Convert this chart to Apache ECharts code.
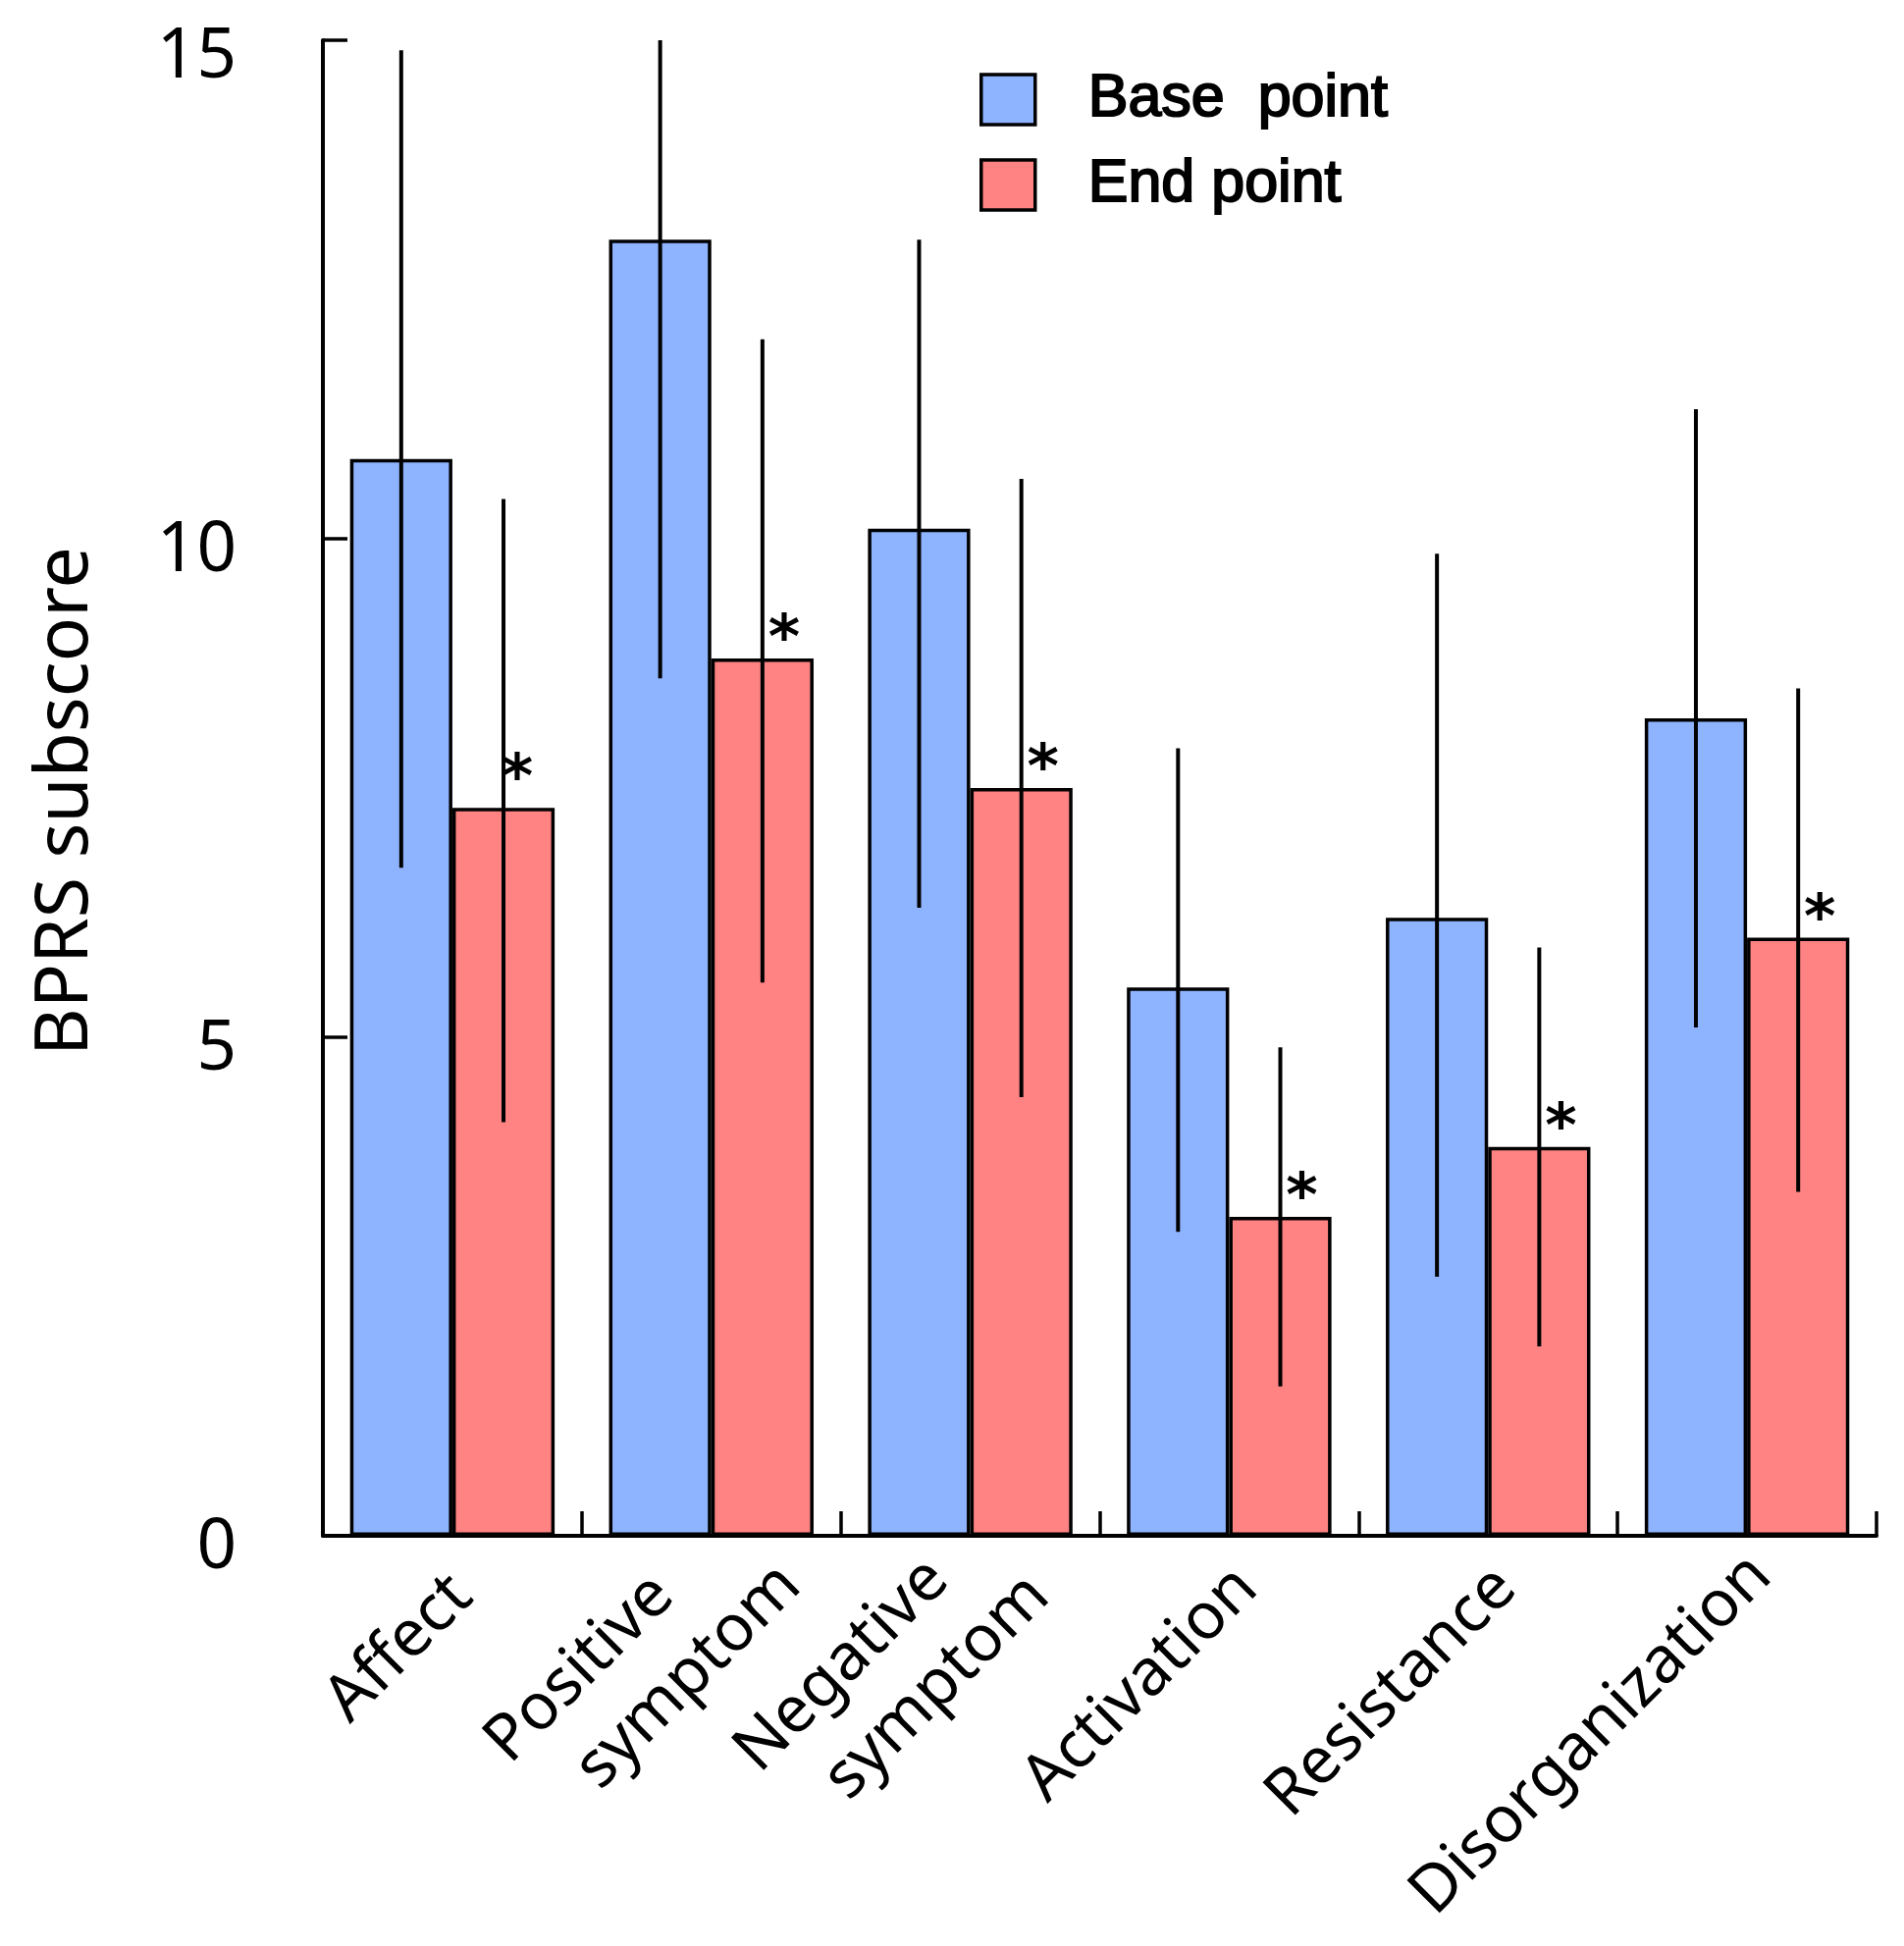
<!DOCTYPE html>
<html><head><meta charset="utf-8">
<script src="https://cdn.jsdelivr.net/npm/echarts@6/dist/echarts.min.js"></script>
<style>html,body{margin:0;padding:0;background:#fff}#c{width:1940px;height:1983px}</style>
</head><body><div id="c"></div>
<script>
const categories = ['Affect', 'Positive\nsymptom', 'Negative\nsymptom', 'Activation', 'Resistance', 'Disorganization'];
const baseMean = [10.8, 13.0, 10.1, 5.5, 6.2, 8.2];
const baseLow  = [6.7, 8.6, 6.3, 3.05, 2.6, 5.1];
const baseHigh = [14.9, 15.0, 13.0, 7.9, 9.85, 11.3];
const endMean  = [7.3, 8.8, 7.5, 3.2, 3.9, 6.0];
const endLow   = [4.15, 5.55, 4.4, 1.5, 1.9, 3.45];
const endHigh  = [10.4, 12.0, 10.6, 4.9, 5.9, 8.5];
const seriesNames = ['Base point', 'End point'];
const yMin = 0, yMax = 15, yStep = 5;

const BLUE = '#8fb4ff', RED = '#ff8383';
const GAP = 0.21;
const FONT = 'Noto Sans';

function errRender(side) {
  return function (params, api) {
    const i = api.value(0);
    const lo = api.coord([i, api.value(1)]);
    const hi = api.coord([i, api.value(2)]);
    const band = api.size([1, 0])[0];
    const bw = band * (1 - GAP) / 2;
    const x = lo[0] + side * bw / 2;
    return { type: 'line', shape: { x1: x, y1: lo[1], x2: x, y2: hi[1] }, style: { stroke: '#000', lineWidth: 4 } };
  };
}

function tok(pr, pb) {
  return { fontFamily: FONT, fontSize: 66, lineHeight: 84, color: '#000', padding: [0, pr, pb || 0, 0] };
}
const labelRich = {
  a: tok(88), s: tok(76), d: tok(70, 24),
  p1: tok(129), p2: tok(30),
  n1: tok(106), n2: tok(45)
};

const endData = endMean.map(function (v, i) {
  return i === 0 ? { value: v, label: { offset: [14, 4] } } : v;
});

const chart = echarts.init(document.getElementById('c'), null, { renderer: 'canvas' });
chart.setOption({
  animation: false,
  backgroundColor: '#fff',
  grid: { left: 329, right: 28, top: 41, bottom: 396, containLabel: false },
  legend: {
    orient: 'vertical', left: 998, top: 70, padding: 0,
    itemWidth: 55, itemHeight: 51, itemGap: 24,
    icon: 'rect',
    formatter: function (n) { return n === 'Base point' ? 'Base  point' : n; },
    textStyle: { fontFamily: 'Liberation Sans', fontSize: 61, lineHeight: 51, color: '#000',
                 textBorderColor: '#000', textBorderWidth: 2, padding: [0, 0, 0, 49] },
    data: [
      { name: seriesNames[0], itemStyle: { color: BLUE, borderColor: '#000', borderWidth: 3.5 } },
      { name: seriesNames[1], itemStyle: { color: RED, borderColor: '#000', borderWidth: 3.5 } }
    ]
  },
  xAxis: {
    type: 'category', data: categories,
    axisLine: { lineStyle: { color: '#000', width: 4 } },
    axisTick: { show: true, inside: true, length: 25, lineStyle: { color: '#000', width: 3.5 } },
    axisLabel: {
      interval: 0, rotate: 45, margin: -83, padding: [204, 0, 0, 0],
      fontFamily: FONT, fontSize: 66, color: '#000', lineHeight: 84,
      formatter: function (v, idx) {
        const p = v.split('\n');
        if (idx === 1) return '{p1|' + p[0] + '}\n{p2|' + p[1] + '}';
        if (idx === 2) return '{n1|' + p[0] + '}\n{n2|' + p[1] + '}';
        if (idx === 0) return '{a|' + v + '}';
        if (idx === 5) return '{d|' + v + '}';
        return '{s|' + v + '}';
      },
      rich: labelRich
    },
    splitLine: { show: false }
  },
  yAxis: {
    type: 'value', min: yMin, max: yMax, interval: yStep,
    name: 'BPRS subscore', nameLocation: 'middle', nameGap: 224,
    nameTextStyle: { fontFamily: FONT, fontSize: 75, color: '#000', padding: [0, 27, 0, 0] },
    axisLine: { show: true, lineStyle: { color: '#000', width: 4 } },
    axisTick: { show: true, inside: true, length: 25, lineStyle: { color: '#000', width: 3.5 } },
    axisLabel: {
      margin: 88, fontFamily: FONT, fontSize: 71, lineHeight: 50, color: '#000', padding: [26, 0, 0, 0],
      formatter: function (v) { return v === yMax ? '{top|' + v + '}' : String(v); },
      rich: { top: { fontFamily: FONT, fontSize: 71, lineHeight: 50, color: '#000', padding: [10, 0, 0, 0] } }
    },
    splitLine: { show: false }
  },
  series: [
    {
      name: seriesNames[0], type: 'bar', data: baseMean, barGap: '0%', barCategoryGap: (GAP * 100) + '%',
      itemStyle: { color: BLUE, borderColor: '#000', borderWidth: 3.5 }, z: 2
    },
    {
      name: seriesNames[1], type: 'bar', data: endData, barGap: '0%', barCategoryGap: (GAP * 100) + '%',
      itemStyle: { color: RED, borderColor: '#000', borderWidth: 3.5 }, z: 2,
      label: { show: true, position: 'top', formatter: '*', offset: [22, 14], distance: 0,
               fontFamily: 'DejaVu Sans', fontWeight: 'bold', fontSize: 62, color: '#000' }
    },
    {
      type: 'custom', name: 'baseErr', renderItem: errRender(-1), z: 5,
      data: categories.map((c, i) => [i, baseLow[i], baseHigh[i]])
    },
    {
      type: 'custom', name: 'endErr', renderItem: errRender(1), z: 5,
      data: categories.map((c, i) => [i, endLow[i], endHigh[i]])
    }
  ]
});
</script>
</body></html>
